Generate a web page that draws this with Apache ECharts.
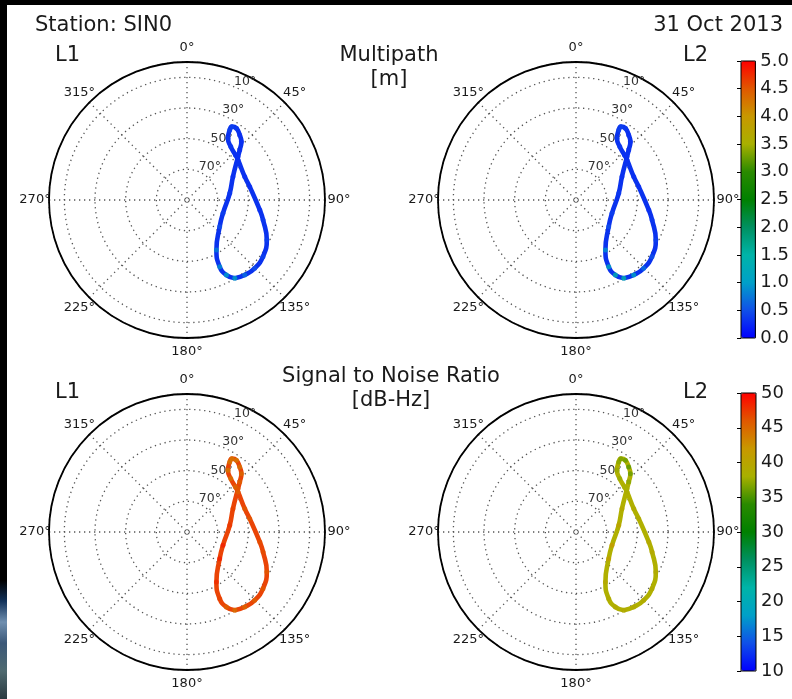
<!DOCTYPE html>
<html><head><meta charset="utf-8">
<script src="https://cdn.jsdelivr.net/npm/echarts@6/dist/echarts.min.js"></script>
<style>html,body{margin:0;padding:0;background:#fff}#c{width:792px;height:699px}</style>
</head><body><div id="c"></div>
<script>
// ---- data (satellite track: azimuth [deg], elevation [deg]) ----
const azimuth   = [148.6,142.4,135.3,126.7,116.6,104.7,97.8,78.0,68.0,51.9,47.1,39.3,33.6,31.4,31.5,34.6,39.0,43.0,46.5,49.7,63.1,81.1,110.3,129.2,149.5,153.9,152.3];
const elevation = [30.2,28.3,27.3,28.2,31.8,38.7,42.1,48.2,49.4,47.7,46.9,45.0,41.7,36.5,33.9,33.2,35.4,38.0,42.6,46.4,56.4,61.8,65.0,62.5,52.2,41.5,34.7];
// multipath [m]
const mpL1 = [1.1,0.7,0.5,0.4,0.4,0.35,0.3,0.3,0.3,0.3,0.3,0.35,0.35,0.4,0.4,0.35,0.3,0.3,0.3,0.3,0.3,0.35,0.4,0.5,0.8,0.9,1.0];
const mpL2 = [1.5,1.1,0.7,0.5,0.4,0.35,0.3,0.3,0.3,0.3,0.3,0.35,0.35,0.4,0.4,0.35,0.3,0.3,0.3,0.3,0.3,0.35,0.4,0.5,0.9,1.2,1.4];
// signal to noise ratio [dB-Hz]
const snrL1 = [44.5,45,45.5,46,46,46.5,46.5,46,46,45.5,45,44.5,44,44,44,44,44.5,45,45.5,46,47,47.5,48.5,48.5,48,47,45.5];
const snrL2 = [39,39,39,39,39,39.5,39.5,39,39,38.5,38,37.5,37.5,37,36.5,36,35.5,36,37,38,39.5,40.5,41.5,41,39.5,39,39];
// ticks
const angleTickStep = 45;
const zenithTickStep = 20;
const mpRange = [0, 5], mpStep = 0.5;
const snrRange = [10, 50], snrStep = 5;
const colorStops = ['#0000ff','#1050e8','#00a0c8','#00b4a8','#009060','#008000','#2a8a00','#a8b000','#c89800','#e05800','#ff0000'];

const FONT = 'DejaVu Sans';
const TXT = '#1a1a1a';
const centers = [[187,200],[576,200],[187,532],[576,532]];
const R = 138;
const panels = [
  {values: mpL1, base: '#0a32ee'},
  {values: mpL2, base: '#0a32ee'},
  {values: snrL1, base: '#ea4406'},
  {values: snrL2, base: '#b0b000'}
];

const polar = [], angleAxis = [], radiusAxis = [], series = [];
const dotted = {color: '#555', width: 1.3, type: [1.3, 3.7]};
panels.forEach((p, i) => {
  const pi = 2 * i, li = 2 * i + 1;
  polar.push({center: centers[i], radius: [0, R]});
  polar.push({center: centers[i], radius: [0, R]});
  angleAxis.push({
    polarIndex: pi, type: 'value', min: 0, max: 360, interval: angleTickStep,
    startAngle: 90, clockwise: true, z: 3,
    axisLine: {show: true, lineStyle: {color: '#000', width: 1.8}},
    axisTick: {show: false},
    axisLabel: {
      margin: 13.5, color: TXT, fontFamily: FONT, fontSize: 13,
      formatter: v => '{a|' + v + '°}',
      rich: {a: {width: 1, height: 1, lineHeight: 1, align: 'center', verticalAlign: 'middle', fontFamily: FONT, fontSize: 13, color: TXT}}
    },
    splitLine: {show: true, lineStyle: dotted}
  });
  radiusAxis.push({
    polarIndex: pi, type: 'value', min: 0, max: 90, interval: zenithTickStep, z: 1,
    axisLine: {show: false}, axisTick: {show: false}, axisLabel: {show: false},
    splitLine: {show: true, lineStyle: dotted}
  });
  angleAxis.push({polarIndex: li, type: 'value', min: 0, max: 360, startAngle: 67.5, clockwise: true, show: false});
  radiusAxis.push({
    polarIndex: li, type: 'value', min: 0, max: 90, interval: zenithTickStep, z: 4,
    axisLine: {show: false}, axisTick: {show: false}, splitLine: {show: false},
    axisLabel: {show: true, margin: 0, align: 'left', verticalAlign: 'bottom', lineHeight: 10,
      fontFamily: FONT, fontSize: 12.5, color: '#333',
      formatter: v => (v > 0 && v < 90) ? (90 - v) + '°' : ''}
  });
  const pts = azimuth.map((a, k) => [90 - elevation[k], a, p.values[k]]);
  series.push({type: 'line', coordinateSystem: 'polar', polarIndex: pi, data: pts.concat([pts[0]]),
    smooth: 0.5, showSymbol: false, silent: true, animation: false, z: 5,
    lineStyle: {color: p.base, width: 4.6}});
  series.push({type: 'scatter', coordinateSystem: 'polar', polarIndex: pi, data: pts,
    symbolSize: 5, silent: true, animation: false, z: 6, clip: false});
});

const vmCommon = {type: 'continuous', orient: 'vertical', calculable: false, hoverLink: false,
  padding: 0, itemWidth: 15, dimension: 2, left: 741, inRange: {color: colorStops}};

const cbAxis = (gi, range, step, digits) => ({
  gridIndex: gi, type: 'value', min: range[0], max: range[1], interval: step, position: 'right',
  axisLine: {show: false}, splitLine: {show: false},
  axisTick: {show: true, inside: true, length: 4, lineStyle: {color: '#000'}},
  axisLabel: {margin: 5, fontFamily: FONT, fontSize: 18, color: TXT, formatter: v => v.toFixed(digits)}
});

const titleStyle = (size) => ({fontFamily: FONT, fontSize: size, fontWeight: 'normal', color: TXT});

const option = {
  backgroundColor: '#fff',
  animation: false,
  polar, angleAxis, radiusAxis, series,
  visualMap: [
    Object.assign({}, vmCommon, {min: mpRange[0], max: mpRange[1], seriesIndex: [1, 3], top: 61, itemHeight: 277}),
    Object.assign({}, vmCommon, {min: snrRange[0], max: snrRange[1], seriesIndex: [5, 7], top: 393, itemHeight: 278})
  ],
  grid: [
    {left: 741, top: 61, width: 15, height: 277, show: true, borderColor: '#000', borderWidth: 1, backgroundColor: 'transparent', z: 10},
    {left: 741, top: 393, width: 15, height: 278, show: true, borderColor: '#000', borderWidth: 1, backgroundColor: 'transparent', z: 10}
  ],
  xAxis: [{gridIndex: 0, type: 'value', show: false}, {gridIndex: 1, type: 'value', show: false}],
  yAxis: [cbAxis(0, mpRange, mpStep, 1), cbAxis(1, snrRange, snrStep, 0)],
  title: [
    {text: 'Station: SIN0', left: 35, top: 15, padding: 0, textStyle: titleStyle(21)},
    {text: '31 Oct 2013', right: 9, top: 15, padding: 0, textStyle: titleStyle(21)},
    {text: 'L1', left: 55, top: 45, padding: 0, textStyle: titleStyle(21)},
    {text: 'L2', left: 683, top: 45, padding: 0, textStyle: titleStyle(21)},
    {text: 'Multipath\n[m]', left: 389, top: 44, padding: 0, textAlign: 'center', textStyle: Object.assign(titleStyle(21), {lineHeight: 24})},
    {text: 'L1', left: 55, top: 382, padding: 0, textStyle: titleStyle(21)},
    {text: 'L2', left: 683, top: 382, padding: 0, textStyle: titleStyle(21)},
    {text: 'Signal to Noise Ratio\n[dB-Hz]', left: 391, top: 365, padding: 0, textAlign: 'center', textStyle: Object.assign(titleStyle(21), {lineHeight: 24})}
  ],
  graphic: [
    {type: 'rect', silent: true, z: 100, shape: {x: 0, y: 0, width: 792, height: 5}, style: {fill: '#000'}},
    {type: 'rect', silent: true, z: 100, shape: {x: 0, y: 0, width: 7, height: 699},
      style: {fill: new echarts.graphic.LinearGradient(0, 0, 0, 1, [
        {offset: 0, color: '#000'}, {offset: 0.83, color: '#000'}, {offset: 0.86, color: '#12325a'},
        {offset: 0.89, color: '#6f8fb0'}, {offset: 0.92, color: '#3b5878'}, {offset: 0.96, color: '#4f6a70'},
        {offset: 1, color: '#2a3a40'}])}}
  ]
};
const chart = echarts.init(document.getElementById('c'), null, {renderer: 'canvas'});
chart.setOption(option);
</script>
</body></html>
